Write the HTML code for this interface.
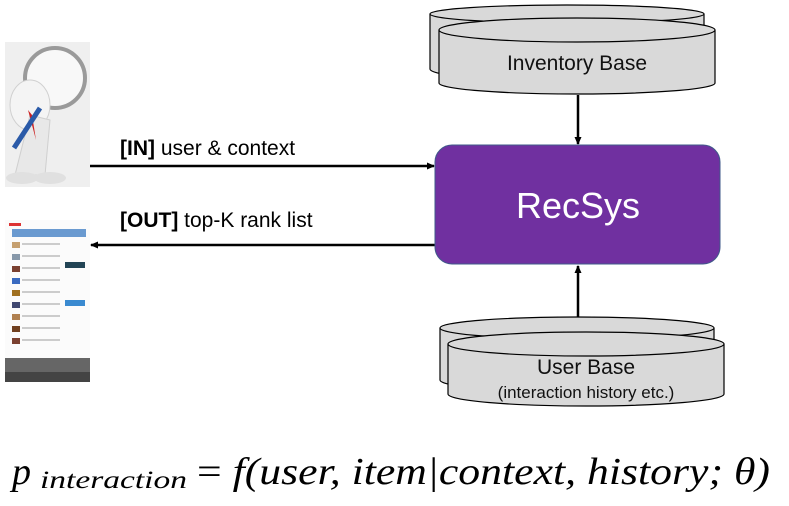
<!DOCTYPE html>
<html><head><meta charset="utf-8"><style>
html,body{margin:0;padding:0;background:#fff;width:789px;height:506px;overflow:hidden}
svg{display:block}
.s{font-family:"Liberation Sans",sans-serif}
.f{font-family:"Liberation Serif",serif;font-style:italic}
</style></head><body>
<svg width="789" height="506" viewBox="0 0 789 506" xmlns="http://www.w3.org/2000/svg">
<defs>
<marker id="ah" markerWidth="8" markerHeight="8" refX="7" refY="4" orient="auto" markerUnits="userSpaceOnUse">
<path d="M0,0.5 L8,4 L0,7.5 Z" fill="#000"/></marker>
</defs>

<!-- person image -->
<rect x="5" y="42" width="85" height="145" fill="#efefef"/>
<circle cx="55" cy="78" r="30" fill="#f8f8f8" stroke="#9a9a9a" stroke-width="4"/>
<ellipse cx="30" cy="105" rx="20" ry="25" fill="#f4f4f4" stroke="#d0d0d0"/>
<path d="M30 115 L15 175 L45 175 L50 120 Z" fill="#e8e8e8" stroke="#cfcfcf"/>
<path d="M28 110 L36 140 L32 115 Z" fill="#c22"/>
<line x1="40" y1="108" x2="14" y2="148" stroke="#2a5aa8" stroke-width="5"/>
<ellipse cx="22" cy="178" rx="16" ry="6" fill="#e0e0e0"/>
<ellipse cx="50" cy="178" rx="16" ry="6" fill="#e0e0e0"/>

<!-- web page image -->
<rect x="5" y="220" width="85" height="162" fill="#fbfbfb"/>
<rect x="9" y="223" width="12" height="3" fill="#d33"/>
<rect x="12" y="229" width="74" height="8" fill="#6a9ad0"/>
<g fill="#ccc">
<rect x="22" y="243" width="38" height="2"/><rect x="22" y="255" width="38" height="2"/>
<rect x="22" y="267" width="38" height="2"/><rect x="22" y="279" width="38" height="2"/>
<rect x="22" y="291" width="38" height="2"/><rect x="22" y="303" width="38" height="2"/>
<rect x="22" y="315" width="38" height="2"/><rect x="22" y="327" width="38" height="2"/>
<rect x="22" y="339" width="38" height="2"/>
</g>
<rect x="12" y="242" width="8" height="6" fill="#c6a070"/><rect x="12" y="254" width="8" height="6" fill="#8899aa"/>
<rect x="12" y="266" width="8" height="6" fill="#7a4030"/><rect x="12" y="278" width="8" height="6" fill="#3a6ac0"/>
<rect x="12" y="290" width="8" height="6" fill="#a07020"/><rect x="12" y="302" width="8" height="6" fill="#404870"/>
<rect x="12" y="314" width="8" height="6" fill="#b08050"/><rect x="12" y="326" width="8" height="6" fill="#704020"/>
<rect x="12" y="338" width="8" height="6" fill="#7a4030"/>
<rect x="65" y="262" width="20" height="6" fill="#245"/>
<rect x="65" y="300" width="20" height="6" fill="#3a8ad0"/>
<rect x="5" y="358" width="85" height="24" fill="#666"/>
<rect x="5" y="372" width="85" height="10" fill="#444"/>

<!-- arrows IN/OUT -->
<line x1="90" y1="166" x2="434" y2="166" stroke="#000" stroke-width="2.5" marker-end="url(#ah)"/>
<text class="s" x="120" y="155" font-size="21" fill="#000"><tspan font-weight="bold">[IN]</tspan> user &amp; context</text>
<line x1="435" y1="245" x2="91" y2="245" stroke="#000" stroke-width="2.5" marker-end="url(#ah)"/>
<text class="s" x="120" y="227" font-size="21" fill="#000"><tspan font-weight="bold">[OUT]</tspan> top-K rank list</text>

<!-- Inventory cylinders -->
<g stroke="#000" stroke-width="1.2" fill="#d9d9d9">
<path d="M430 14 L430 69 A137 12 0 0 0 704 69 L704 14"/>
<ellipse cx="567" cy="14" rx="137" ry="9"/>
<path d="M439 30 L439 83 A138 11 0 0 0 715 83 L715 30"/>
<ellipse cx="577" cy="30" rx="138" ry="12"/>
</g>
<text class="s" x="577" y="70" font-size="21" text-anchor="middle" fill="#111">Inventory Base</text>

<line x1="578" y1="95" x2="578" y2="144" stroke="#000" stroke-width="2.5" marker-end="url(#ah)"/>

<!-- RecSys -->
<rect x="435" y="145" width="285" height="119" rx="17" fill="#7030a0" stroke="#3f5a8a" stroke-width="1"/>
<text class="s" x="578" y="218" font-size="36" text-anchor="middle" fill="#fff">RecSys</text>

<line x1="578" y1="318" x2="578" y2="266" stroke="#000" stroke-width="2.5" marker-end="url(#ah)"/>

<!-- User cylinders -->
<g stroke="#000" stroke-width="1.2" fill="#d9d9d9">
<path d="M440 328 L440 380 A137 12 0 0 0 714 380 L714 328"/>
<ellipse cx="577" cy="328" rx="137" ry="11"/>
<path d="M448 344 L448 394 A138 12 0 0 0 724 394 L724 344"/>
<ellipse cx="586" cy="344" rx="138" ry="12"/>
</g>
<text class="s" x="586" y="374" font-size="21" text-anchor="middle" fill="#111">User Base</text>
<text class="s" x="586" y="398" font-size="17" text-anchor="middle" fill="#111">(interaction history etc.)</text>

<!-- formula -->
<text class="f" x="12" y="484" font-size="38" fill="#000">p</text>
<text class="f" x="40" y="488" font-size="25" fill="#000" textLength="147" lengthAdjust="spacingAndGlyphs">interaction</text>
<text class="f" x="197" y="484" font-size="38" fill="#000" textLength="573" lengthAdjust="spacingAndGlyphs"><tspan style="font-style:normal">=</tspan> f(user, item|context, history; θ)</text>
</svg>
</body></html>
